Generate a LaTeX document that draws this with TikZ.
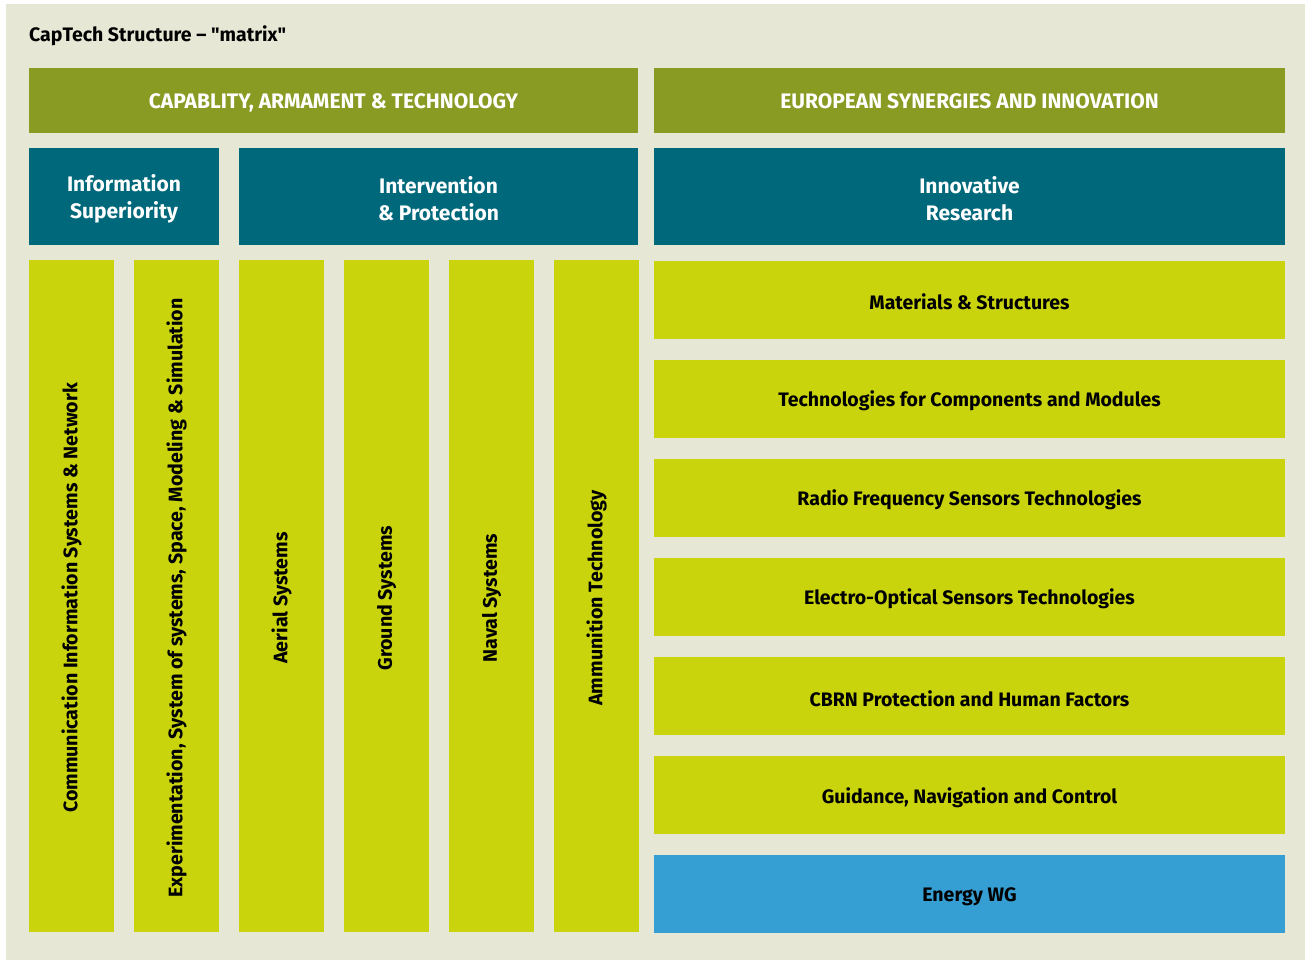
\documentclass[tikz,border=0pt]{standalone}
\usepackage{fontspec}
\setmainfont{Fira Sans}[UprightFont=* Medium, BoldFont=* Bold]
\newfontfamily\titlefont{Fira Sans Bold}
\definecolor{beige}{HTML}{E6E7D5}
\definecolor{olive}{HTML}{8A9B24}
\definecolor{teal}{HTML}{00687B}
\definecolor{lime}{HTML}{C9D40D}
\definecolor{bluewg}{HTML}{359FD3}
\begin{document}
\begin{tikzpicture}[x=1pt,y=-1pt,
  box/.style={anchor=north west, inner sep=0pt, outer sep=0pt},
  lbl/.style={inner sep=0pt, align=center, yshift=-2.5pt, font=\bfseries\fontsize{19.5}{27}\selectfont},
  hdr/.style={lbl, text=white, font=\bfseries\fontsize{21}{27}\selectfont},
  cathdr/.style={inner sep=0pt, text=white, text height=15pt, text depth=0pt, yshift=-0.5pt, font=\bfseries\fontsize{21}{27}\selectfont},
  coltext/.style={rotate=90, inner sep=0pt, xshift=0.5pt, font=\bfseries\fontsize{19.6}{27}\selectfont}]
\useasboundingbox (0,0) rectangle (1305,960);
\fill[white] (0,0) rectangle (1305,960);
\fill[beige] (6,4) rectangle (1305,960);
\node[anchor=base west, inner sep=0pt, font=\titlefont\fontsize{19.5}{24}\selectfont] (title) at (29,42) {CapTech Structure – "matrix"};
% categories
\node[box, fill=olive, minimum width=609, minimum height=65] (cat1) at (29,68) {};
\node[cathdr] (cat1t) at (cat1.center) {CAPABLITY, ARMAMENT \& TECHNOLOGY};
\node[box, fill=olive, minimum width=631, minimum height=65] (cat2) at (654,68) {};
\node[cathdr] (cat2t) at (cat2.center) {EUROPEAN SYNERGIES AND INNOVATION};
% groups
\node[box, fill=teal, minimum width=190, minimum height=97] (g1) at (29,148) {};
\node[hdr] (g1t) at (g1.center) {Information\\Superiority};
\node[box, fill=teal, minimum width=399, minimum height=97] (g2) at (239,148) {};
\node[hdr] (g2t) at (g2.center) {Intervention\\\& Protection};
\node[box, fill=teal, minimum width=631, minimum height=97] (g3) at (654,148) {};
\node[hdr] (g3t) at (g3.center) {Innovative\\Research};
% columns
\foreach \i/\x/\t in {1/29/{Communication Information Systems \& Network},
                      2/134/{Experimentation, System of systems, Space, Modeling \& Simulation},
                      3/239/{Aerial Systems},
                      4/344/{Ground Systems},
                      5/449/{Naval Systems},
                      6/554/{Ammunition Technology}}{
  \node[box, fill=lime, minimum width=85, minimum height=672] (c\i) at (\x,260) {};
  \node[coltext] (c\i t) at ([yshift=-2.5pt]c\i.center) {\t};
}
% rows
\foreach \i/\y/\t in {1/261/{Materials \& Structures},
                      2/360/{Technologies for Components and Modules},
                      3/459/{Radio Frequency Sensors Technologies},
                      4/558/{Electro-Optical Sensors Technologies},
                      5/657/{CBRN Protection and Human Factors},
                      6/756/{Guidance, Navigation and Control}}{
  \node[box, fill=lime, minimum width=631, minimum height=77.5] (r\i) at (654,\y) {};
  \node[lbl] (r\i t) at (r\i.center) {\t};
}
\node[box, fill=bluewg, minimum width=631, minimum height=77.5] (r7) at (654,855) {};
\node[lbl] (r7t) at (r7.center) {Energy WG};
\end{tikzpicture}
\end{document}
